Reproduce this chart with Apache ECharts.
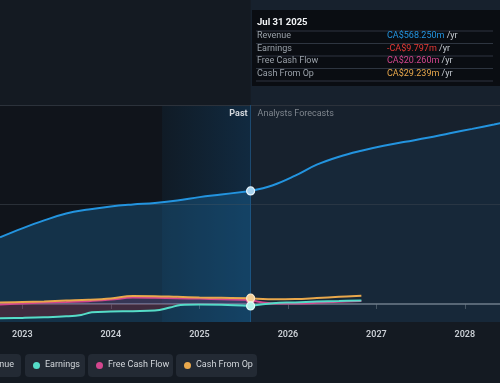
<!DOCTYPE html>
<html>
<head>
<meta charset="utf-8">
<script src="https://cdn.jsdelivr.net/npm/echarts@6/dist/echarts.min.js"></script>
<style>
html,body{margin:0;padding:0;background:#141a22;}
#c{width:500px;height:383px;}
</style>
</head>
<body>
<div id="c"></div>
<script>
// ---- data (values in CA$ millions) ----
const revenueDates = ['2022-10-01','2023-01-01','2023-04-01','2023-07-01','2023-10-01','2024-01-01','2024-04-01','2024-07-01','2024-10-01','2025-01-01','2025-04-01','2025-07-31'];
const revenueValues = [335,380,420,455,475,490,500,508,520,537,550,568.25];
const revenueFcDates = ['2025-07-31','2025-10-31','2026-01-31','2026-04-30','2026-07-31','2026-10-31','2027-01-31','2027-04-30','2027-07-31','2027-10-31','2028-01-31','2028-04-30','2028-07-31'];
const revenueFcValues = [568.25,597,645,700,740,770,795,815,835,858,880,902,925];

const earningsDates = ['2022-10-01','2023-01-01','2023-04-01','2023-07-01','2023-09-01','2023-10-15','2024-01-01','2024-04-01','2024-07-01','2024-09-01','2024-10-15','2025-01-01','2025-04-01','2025-07-31'];
const earningsValues = [-72,-70,-67,-62,-55,-42,-38,-36,-33,-18,-5,-3,-4,-9.797];
const earningsFcDates = ['2025-07-31','2025-10-31','2026-01-31','2026-04-30','2026-07-31','2026-10-31'];
const earningsFcValues = [-9.797,4,8,12,15,18];

const fcfDates = ['2022-10-01','2023-01-01','2023-04-01','2023-07-01','2023-10-01','2024-01-01','2024-04-01','2024-07-01','2024-10-01','2025-01-01','2025-04-01','2025-07-31'];
const fcfValues = [-2,3,7,10,14,22,32,31,29,27,24,20.26];
const fcfFcDates = ['2025-07-31','2025-10-31','2026-01-31','2026-04-30','2026-07-31','2026-10-31'];
const fcfFcValues = [20.26,3,2,6,11,15];

const cfoDates = ['2022-10-01','2023-01-01','2023-04-01','2023-07-01','2023-10-01','2024-01-01','2024-04-01','2024-07-01','2024-10-01','2025-01-01','2025-04-01','2025-07-31'];
const cfoValues = [7,10,13,17,21,28,40,39,36,33,31,29.239];
const cfoFcDates = ['2025-07-31','2025-10-31','2026-01-31','2026-04-30','2026-07-31','2026-10-31'];
const cfoFcValues = [29.239,24,25,30,36,42];

const yearTicks = [2023,2024,2025,2026,2027,2028];
const legendNames = ['Revenue','Earnings','Free Cash Flow','Cash From Op'];

const tipDate = 'Jul 31 2025';
const tipRows = [
  ['Revenue','CA$568.250m'],
  ['Earnings','-CA$9.797m'],
  ['Free Cash Flow','CA$20.260m'],
  ['Cash From Op','CA$29.239m']
];

// ---- helpers ----
const T = s => { const p = s.split('-').map(Number); return Date.UTC(p[0], p[1]-1, p[2]); };
const pairs = (d, v) => d.map((x, i) => [T(x), v[i]]);

const xMin = T('2022-10-01'), xMax = T('2028-05-25');
const yMin = -90.5, yMax = 1527.6;
const cut = T('2025-07-31'), pastStart = T('2024-07-31');

const C_REV = '#2394df', C_EARN = '#55dcc8', C_FCF = '#d3468e', C_CFO = '#e9a84c';
const FONT = 'Roboto, "Noto Sans", sans-serif';

function markDot(data, fill, border) {
  return data.map(p => p[0] === cut ? { value: p, symbol: 'circle', symbolSize: 8, itemStyle: { color: fill, borderColor: border, borderWidth: 1.2 } } : { value: p, symbol: 'none' });
}

const chart = echarts.init(document.getElementById('c'), null, { renderer: 'canvas' });

const tipColors = [C_REV, '#e53935', C_FCF, C_CFO];
const tipGraphics = [];
tipGraphics.push({ type: 'rect', left: 252, top: 10, shape: { width: 248, height: 76 }, style: { fill: '#0a0d12' }, z: 100 });
tipGraphics.push({ type: 'text', left: 257, top: 18, style: { text: tipDate, fill: '#f2f4f6', font: 'bold 9.5px ' + FONT }, z: 101 });
const lineYs = [30.5, 43, 55.5, 68, 80.5];
lineYs.forEach(y => tipGraphics.push({ type: 'rect', left: 256, top: y, shape: { width: 237, height: 1 }, style: { fill: '#2e3540' }, z: 101 }));
tipRows.forEach((r, i) => {
  const cy = 36.5 + i * 12.5;
  tipGraphics.push({ type: 'text', left: 257, top: cy - 5, style: { text: r[0], fill: '#9aa1a9', font: '9px ' + FONT }, z: 101 });
  tipGraphics.push({ type: 'text', left: 387, top: cy - 5, style: {
    text: '{v|' + r[1] + '}{u| /yr}',
    rich: { v: { fill: tipColors[i], font: '9px ' + FONT }, u: { fill: '#c7ccd2', font: '9px ' + FONT } }
  }, z: 101 });
});

// legend buttons
const legendColors = [C_REV, C_EARN, C_FCF, C_CFO];
const btns = [[-40, 61], [25, 60], [88, 85], [176, 81]];
const legendGraphics = [];
btns.forEach((b, i) => {
  legendGraphics.push({ type: 'rect', left: b[0], top: 354, shape: { width: b[1], height: 23, r: 4 }, style: { fill: '#232a34' }, z: 100 });
  if (i > 0) {
    legendGraphics.push({ type: 'circle', shape: { cx: b[0] + 11.5, cy: 365.5, r: 3.5 }, style: { fill: legendColors[i] }, z: 101 });
  }
  legendGraphics.push({ type: 'text', left: b[0] + 20, top: 360.5, style: { text: legendNames[i], fill: '#d3d7dc', font: '9px ' + FONT }, z: 101 });
});

const yearVals = yearTicks.map(y => Date.UTC(y, 0, 1));

const option = {
  backgroundColor: '#141a22',
  animation: false,
  grid: { left: 0, right: 0, top: 0, bottom: 61 },
  xAxis: {
    type: 'value', min: xMin, max: xMax,
    axisLine: { show: false },
    splitLine: { show: false },
    axisTick: { show: true, customValues: yearVals, length: 5, lineStyle: { color: '#4b525b' } },
    axisLabel: { customValues: yearVals, formatter: v => String(new Date(v).getUTCFullYear()), color: '#c9ced4', fontSize: 9, fontWeight: 600, fontFamily: FONT, margin: 8 }
  },
  yAxis: { type: 'value', min: yMin, max: yMax, show: false, splitLine: { show: false } },
  series: [
    {
      type: 'line', data: [], z: 3, silent: true,
      markLine: {
        silent: true, symbol: 'none', label: { show: false },
        data: [
          { yAxis: 1000, lineStyle: { color: '#2c323b', width: 1, type: 'solid' } },
          { yAxis: 500, lineStyle: { color: '#2a3038', width: 1, type: 'solid' } },
          [{ coord: [cut, yMin], lineStyle: { color: '#1d4a70', width: 1, type: 'solid' } }, { coord: [cut, 1000] }]
        ]
      }
    },
    {
      name: 'Revenue', type: 'line', smooth: 0.4, z: 5,
      data: pairs(revenueFcDates, revenueFcValues), showSymbol: false,
      lineStyle: { color: C_REV, width: 2 },
      itemStyle: { color: C_REV },
      areaStyle: { origin: 'start', color: 'rgba(35,148,223,0.07)', opacity: 1 }
    },
    {
      name: 'Revenue', type: 'line', smooth: 0.4, z: 6,
      data: markDot(pairs(revenueDates, revenueValues), '#a7d3f0', '#e6f3fb'),
      lineStyle: { color: C_REV, width: 2 },
      itemStyle: { color: C_REV },
      areaStyle: { origin: 'start', color: 'rgba(35,148,223,0.24)', opacity: 1 }
    },
    {
      type: 'line', data: [], z: 7, silent: true,
      markLine: {
        silent: true, symbol: 'none', label: { show: false },
        data: [{ yAxis: 0, lineStyle: { color: '#767c84', width: 1.5, type: 'solid' } }]
      }
    },
    {
      name: 'Earnings', type: 'line', smooth: 0.4, z: 8, showSymbol: false,
      data: pairs(earningsDates, earningsValues),
      lineStyle: { color: C_EARN, width: 2 },
      areaStyle: { color: 'rgba(140,30,45,0.36)', opacity: 1 }
    },
    {
      name: 'Free Cash Flow', type: 'line', smooth: 0.4, z: 9, showSymbol: false,
      data: pairs(fcfDates, fcfValues),
      lineStyle: { color: C_FCF, width: 2 },
      areaStyle: { color: 'rgba(211,70,142,0.18)', opacity: 1 }
    },
    {
      name: 'Cash From Op', type: 'line', smooth: 0.4, z: 10, showSymbol: false,
      data: pairs(cfoDates, cfoValues),
      lineStyle: { color: C_CFO, width: 2 }
    },
    {
      type: 'line', smooth: 0.4, z: 11,
      data: markDot(pairs(fcfFcDates, fcfFcValues), '#f0a9cc', C_FCF),
      lineStyle: { color: C_FCF, width: 2 }
    },
    {
      type: 'line', smooth: 0.4, z: 12,
      data: markDot(pairs(cfoFcDates, cfoFcValues), '#f5cf96', '#fbe6c6'),
      lineStyle: { color: C_CFO, width: 2 }
    },
    {
      type: 'line', smooth: 0.4, z: 13,
      data: markDot(pairs(earningsFcDates, earningsFcValues), '#b5f2e8', '#e4fbf7'),
      lineStyle: { color: C_EARN, width: 2 }
    }
  ]
};
chart.setOption(option);

// background bands, positioned through the axes
const P = (x, y) => chart.convertToPixel({ gridIndex: 0 }, [x, y]);
function band(x0, x1, yTop, fill) {
  const a = P(x0, yTop), b = P(x1, yMin);
  return { type: 'rect', shape: { x: a[0], y: a[1], width: b[0] - a[0], height: b[1] - a[1] }, style: { fill: fill }, z: -10, silent: true };
}
const bg = [
  band(xMin, pastStart, 1000, '#10141b'),
  band(pastStart, cut, 1000, new echarts.graphic.LinearGradient(0, 0, 1, 0, [{ offset: 0, color: '#101b26' }, { offset: 1, color: '#112a40' }])),
  band(cut, xMax, yMax, '#17212d')
];
const pastPx = P(cut, 1000);
const texts = [
  { type: 'text', x: pastPx[0] - 3, y: pastPx[1] + 4, style: { text: 'Past', fill: '#d4d8dd', font: 'bold 9px ' + FONT, align: 'right' }, z: 50 },
  { type: 'text', x: pastPx[0] + 7, y: pastPx[1] + 4, style: { text: 'Analysts Forecasts', fill: '#7f868e', font: '9px ' + FONT }, z: 50 }
];
chart.setOption({ graphic: bg.concat(texts, tipGraphics, legendGraphics) });
</script>
</body>
</html>
